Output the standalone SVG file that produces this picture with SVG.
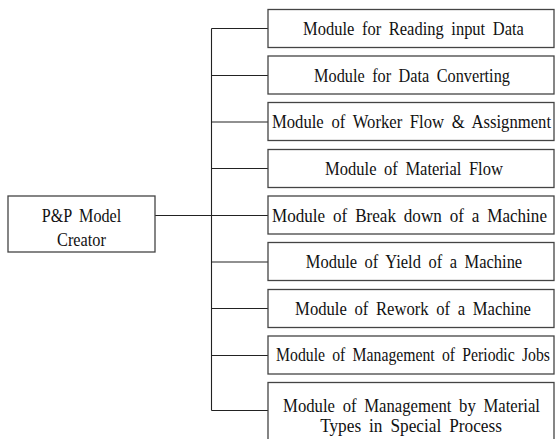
<svg xmlns="http://www.w3.org/2000/svg" width="555" height="439" viewBox="0 0 555 439">
  <style>
    .box { fill: #ffffff; stroke: #444444; stroke-width: 1.3; }
    .wire { fill: none; stroke: #222222; stroke-width: 1.1; }
    text { font-family: "Liberation Serif", "Times New Roman", serif; font-size: 19px; word-spacing: 4px; fill: #111111; text-anchor: middle; }
  </style>
  <rect width="555" height="439" fill="#ffffff"/>

  <!-- tree connectors -->
  <g id="connectors">
    <path class="wire" d="M155,215.5 H211.5"/>
    <path class="wire" d="M211.5,28.5 V410.5"/>
    <path class="wire" d="M211.5,28.5 H268"/>
    <path class="wire" d="M211.5,75.5 H268"/>
    <path class="wire" d="M211.5,122 H268"/>
    <path class="wire" d="M211.5,168.5 H268"/>
    <path class="wire" d="M211.5,215.5 H268"/>
    <path class="wire" d="M211.5,262 H268"/>
    <path class="wire" d="M211.5,308.5 H268"/>
    <path class="wire" d="M211.5,355.5 H268"/>
    <path class="wire" d="M211.5,410.5 H268"/>
  </g>

  <!-- labels use a narrowed serif: scale(sx 1) around each baseline centre -->
  <g id="root">
    <rect class="box" x="8" y="196" width="147" height="56"/>
    <text transform="translate(81.5 222) scale(0.85 1)">P&amp;P Model</text>
    <text transform="translate(81.5 246) scale(0.86 1)">Creator</text>
  </g>

  <g id="m1">
    <rect class="box" x="268" y="9.5" width="286" height="38"/>
    <text transform="translate(413.5 34.8) scale(0.868 1)">Module for Reading input Data</text>
  </g>
  <g id="m2">
    <rect class="box" x="268" y="56" width="286" height="38"/>
    <text transform="translate(412 81.5) scale(0.856 1)">Module for Data Converting</text>
  </g>
  <g id="m3">
    <rect class="box" x="268" y="102.5" width="286" height="38"/>
    <text transform="translate(411.5 128.2) scale(0.877 1)">Module of Worker Flow &amp; Assignment</text>
  </g>
  <g id="m4">
    <rect class="box" x="268" y="149.5" width="286" height="38"/>
    <text transform="translate(414 175) scale(0.87 1)">Module of Material Flow</text>
  </g>
  <g id="m5">
    <rect class="box" x="268" y="196" width="286" height="38"/>
    <text transform="translate(409.5 221.5) scale(0.9 1)">Module of Break down of a Machine</text>
  </g>
  <g id="m6">
    <rect class="box" x="268" y="242.5" width="286" height="38"/>
    <text transform="translate(414 268.2) scale(0.866 1)">Module of Yield of a Machine</text>
  </g>
  <g id="m7">
    <rect class="box" x="268" y="289.5" width="286" height="38"/>
    <text transform="translate(413 314.8) scale(0.875 1)">Module of Rework of a Machine</text>
  </g>
  <g id="m8">
    <rect class="box" x="268" y="336" width="286" height="38"/>
    <text transform="translate(413 361) scale(0.828 1)">Module of Management of Periodic Jobs</text>
  </g>
  <g id="m9">
    <rect class="box" x="268" y="382.5" width="286" height="70"/>
    <text transform="translate(411.5 411.5) scale(0.879 1)">Module of Management by Material</text>
    <text transform="translate(411 432) scale(0.909 1)">Types in Special Process</text>
  </g>
</svg>
